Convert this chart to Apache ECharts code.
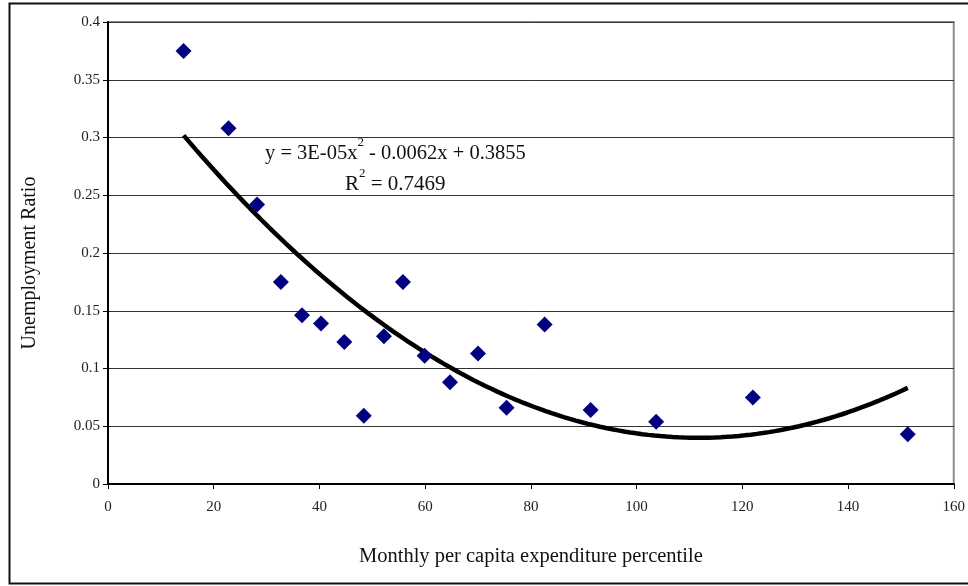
<!DOCTYPE html>
<html>
<head>
<meta charset="utf-8">
<script src="https://cdn.jsdelivr.net/npm/echarts@6/dist/echarts.min.js"></script>
<style>
html,body{margin:0;padding:0;background:#fff;}
#c{width:968px;height:586px;}
</style>
</head>
<body>
<div id="c"></div>
<script>
// Data
var xValues = [14.3, 22.8, 28.2, 32.7, 36.7, 40.3, 44.7, 48.4, 52.2, 55.8, 59.9, 64.7, 70.0, 75.4, 82.6, 91.3, 103.7, 122.0, 151.3];
var yValues = [0.375, 0.308, 0.242, 0.175, 0.146, 0.139, 0.123, 0.059, 0.128, 0.175, 0.111, 0.088, 0.113, 0.066, 0.138, 0.064, 0.054, 0.075, 0.043];
var xTicks = [0, 20, 40, 60, 80, 100, 120, 140, 160];
var yTicks = [0, 0.05, 0.1, 0.15, 0.2, 0.25, 0.3, 0.35, 0.4];
var equationText = ['y = 3E-05x', '2', ' - 0.0062x + 0.3855'];
var r2Text = ['R', '2', ' = 0.7469'];
var xTitle = 'Monthly per capita expenditure percentile';
var yTitle = 'Unemployment Ratio';

// Quadratic least-squares trendline (as Excel computes it)
function polyFit2(xs, ys) {
  var S = [0,0,0,0,0], T = [0,0,0];
  for (var i = 0; i < xs.length; i++) {
    var p = 1;
    for (var k = 0; k < 5; k++) { S[k] += p; if (k < 3) T[k] += p * ys[i]; p *= xs[i]; }
  }
  var A = [[S[0],S[1],S[2],T[0]],[S[1],S[2],S[3],T[1]],[S[2],S[3],S[4],T[2]]];
  for (var c = 0; c < 3; c++) {
    for (var r = c + 1; r < 3; r++) {
      var f = A[r][c] / A[c][c];
      for (var j = c; j < 4; j++) A[r][j] -= f * A[c][j];
    }
  }
  var sol = [0,0,0];
  for (var r2 = 2; r2 >= 0; r2--) {
    var s = A[r2][3];
    for (var j2 = r2 + 1; j2 < 3; j2++) s -= A[r2][j2] * sol[j2];
    sol[r2] = s / A[r2][r2];
  }
  return sol; // c0, c1, c2
}
var coef = polyFit2(xValues, yValues);
var xmin = Math.min.apply(null, xValues), xmax = Math.max.apply(null, xValues);
var trend = [];
for (var i = 0; i <= 120; i++) {
  var x = xmin + (xmax - xmin) * i / 120;
  trend.push([x, coef[0] + coef[1] * x + coef[2] * x * x]);
}

var scatterData = xValues.map(function (x, i) { return [x, yValues[i]]; });
var FONT = '"Liberation Serif", "DejaVu Serif", serif';

var chart = echarts.init(document.getElementById('c'), null, {renderer: 'canvas'});
chart.setOption({
  animation: false,
  backgroundColor: '#fff',
  grid: {left: 108, right: 12, top: 22, bottom: 102, show: true, borderColor: '#8c8c8c', borderWidth: 2, backgroundColor: 'transparent'},
  xAxis: {
    type: 'value', min: xTicks[0], max: xTicks[xTicks.length - 1], interval: 20,
    axisLine: {show: true, onZero: false, lineStyle: {color: '#000', width: 2}},
    axisTick: {show: true, inside: false, length: 5, lineStyle: {color: '#000', width: 1}},
    axisLabel: {color: '#222', fontFamily: FONT, fontSize: 15, margin: 16},
    splitLine: {show: false},
    name: xTitle, nameLocation: 'middle', nameGap: 62,
    nameTextStyle: {color: '#111', fontFamily: FONT, fontSize: 20.5}
  },
  yAxis: {
    type: 'value', min: yTicks[0], max: yTicks[yTicks.length - 1], interval: 0.05,
    axisLine: {show: true, onZero: false, lineStyle: {color: '#000', width: 2}},
    axisTick: {show: true, inside: false, length: 5, lineStyle: {color: '#000', width: 1}},
    axisLabel: {color: '#222', fontFamily: FONT, fontSize: 15, margin: 8,
      formatter: function (v) { return String(+v.toFixed(2)); }},
    splitLine: {show: true, lineStyle: {color: '#333', width: 1}},
    name: yTitle, nameLocation: 'middle', nameGap: 68, nameRotate: 90,
    nameTextStyle: {color: '#111', fontFamily: FONT, fontSize: 20, padding: [0, 20, 0, 0]}
  },
  series: [
    {
      type: 'line', data: trend, showSymbol: false, symbol: 'none', smooth: false,
      lineStyle: {color: '#000', width: 4.5}, z: 2, silent: true
    },
    {
      type: 'scatter', data: scatterData, symbol: 'diamond', symbolSize: 16,
      itemStyle: {color: '#000080', opacity: 1}, z: 3
    }
  ],
  graphic: [
    {type: 'rect', left: 7, top: 1, shape: {width: 980, height: 580}, style: {fill: 'none', stroke: '#111', lineWidth: 2}, z: 100, silent: true},
    {type: 'text', left: 265, top: 136, z: 101, style: {
      text: '{n|' + equationText[0] + '}{s|' + equationText[1] + '}{n|' + equationText[2] + '}',
      rich: {n: {fontFamily: FONT, fontSize: 20.5, fill: '#111', lineHeight: 28, verticalAlign: 'bottom'},
             s: {fontFamily: FONT, fontSize: 13, fill: '#111', lineHeight: 28, verticalAlign: 'top', padding: [0,0,10,0]}}
    }},
    {type: 'text', left: 345, top: 167, z: 101, style: {
      text: '{n|' + r2Text[0] + '}{s|' + r2Text[1] + '}{n|' + r2Text[2] + '}',
      rich: {n: {fontFamily: FONT, fontSize: 21, fill: '#111', lineHeight: 28, verticalAlign: 'bottom'},
             s: {fontFamily: FONT, fontSize: 13, fill: '#111', lineHeight: 28, verticalAlign: 'top', padding: [0,0,10,0]}}
    }}
  ]
});
</script>
</body>
</html>
